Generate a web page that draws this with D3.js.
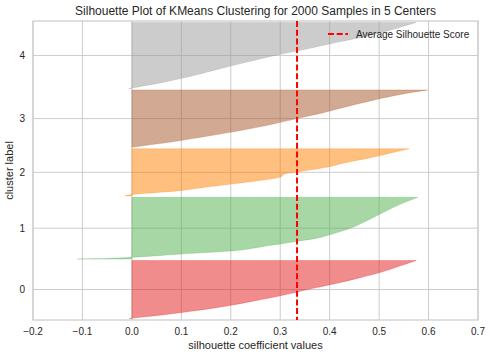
<!DOCTYPE html>
<html><head><meta charset="utf-8">
<script src="https://cdn.jsdelivr.net/npm/d3@7"></script>
<style>
body{margin:0;background:#fff}
text{font-family:"Liberation Sans",Arial,sans-serif;fill:#262626}
</style>
</head><body>
<svg id="c" width="491" height="358"></svg>
<script>
// ---- data ----
const clusterLabels = [0, 1, 2, 3, 4];
const clusterSizes = [400, 425, 325, 395, 455];
const clusterColors = ["#e41a1c", "#4daf4a", "#ff7f00", "#a65628", "#999999"];
const nSamples = 2000;
const avgScore = 0.334;
const xTicks = [-0.2, -0.1, 0.0, 0.1, 0.2, 0.3, 0.4, 0.5, 0.6, 0.7];

// sorted silhouette values read at fractional positions within each cluster
const fractions0 = [0, 0.1, 0.2, 0.3, 0.4, 0.5, 0.6, 0.7, 0.8, 0.9, 1.0];
const silhouette0 = [-0.005, 0.097, 0.18, 0.245, 0.305, 0.355, 0.41, 0.46, 0.505, 0.54, 0.575];
const fractions1 = [0, 0.01, 0.028, 0.082, 0.13, 0.175, 0.223, 0.244, 0.288, 0.33, 0.395, 0.503, 0.6, 0.72, 0.87, 1.0];
const silhouette1 = [-0.11, -0.05, 0.0, 0.1, 0.2, 0.245, 0.28, 0.3, 0.334, 0.369, 0.4, 0.443, 0.47, 0.5, 0.538, 0.578];
const fractions2 = [0, 0.03, 0.1, 0.2, 0.3, 0.4, 0.47, 0.5, 0.6, 0.7, 0.8, 0.9, 1.0];
const silhouette2 = [-0.014, 0.0, 0.085, 0.16, 0.24, 0.3, 0.31, 0.33, 0.39, 0.43, 0.478, 0.52, 0.561];
const fractions3 = [0, 0.1, 0.2, 0.3, 0.4, 0.5, 0.6, 0.7, 0.8, 0.9, 1.0];
const silhouette3 = [0.0, 0.085, 0.157, 0.225, 0.283, 0.333, 0.385, 0.43, 0.478, 0.53, 0.598];
const fractions4 = [0, 0.1, 0.2, 0.3, 0.4, 0.5, 0.6, 0.7, 0.8, 0.9, 1.0];
const silhouette4 = [-0.006, 0.067, 0.127, 0.178, 0.233, 0.289, 0.355, 0.415, 0.48, 0.53, 0.575];

const allFractions = [fractions0, fractions1, fractions2, fractions3, fractions4];
const allSilhouette = [silhouette0, silhouette1, silhouette2, silhouette3, silhouette4];

// ---- layout ----
const svg = d3.select("#c");
const L = 33, R = 478, T = 21, B = 320;
const x = d3.scaleLinear().domain([-0.2, 0.7]).range([L, R]);
const yMax = nSamples + (clusterLabels.length + 1) * 10;
const y = d3.scaleLinear().domain([0, yMax]).range([B, T]);

// compute band positions (as in yellowbrick)
let yLower = 10;
const bands = clusterLabels.map((c, i) => {
  const size = clusterSizes[i];
  const b = {label: c, lower: yLower, size: size, tick: yLower + 0.5 * size};
  yLower = yLower + size + 10;
  return b;
});

// grid
const g = svg.append("g");
g.selectAll(".vg").data(xTicks).join("line")
  .attr("x1", d => x(d)).attr("x2", d => x(d)).attr("y1", T).attr("y2", B)
  .attr("stroke", "#cccccc").attr("stroke-width", 1);
g.selectAll(".hg").data(bands).join("line")
  .attr("x1", L).attr("x2", R).attr("y1", d => y(d.tick)).attr("y2", d => y(d.tick))
  .attr("stroke", "#cccccc").attr("stroke-width", 1);

// silhouettes
const area = d3.area()
  .x0(() => x(0))
  .x1(d => x(d.v))
  .y(d => d.y)
  .curve(d3.curveMonotoneY);
bands.forEach((b, i) => {
  const pts = allFractions[i].map((f, j) => ({y: y(b.lower + f * b.size), v: allSilhouette[i][j]}));
  pts.reverse();
  svg.append("path").datum(pts).attr("d", area)
    .attr("fill", clusterColors[i]).attr("fill-opacity", 0.5)
    .attr("stroke", clusterColors[i]).attr("stroke-opacity", 0.5).attr("stroke-width", 0.5);
});

// frame
svg.append("rect").attr("x", L).attr("y", T).attr("width", R - L).attr("height", B - T)
  .attr("fill", "none").attr("stroke", "#cccccc").attr("stroke-width", 1.25);

// average line
svg.append("line").attr("x1", x(avgScore)).attr("x2", x(avgScore)).attr("y1", T).attr("y2", B)
  .attr("stroke", "#ff0000").attr("stroke-width", 2).attr("stroke-dasharray", "6,2.7");

// x tick labels
const fmt = d => (d < 0 ? "\u2212" : "") + Math.abs(d).toFixed(1);
svg.selectAll(".xt").data(xTicks).join("text")
  .attr("x", d => x(d)).attr("y", 335).attr("text-anchor", "middle")
  .attr("font-size", 10).text(fmt);
// y tick labels
svg.selectAll(".yt").data(bands).join("text")
  .attr("x", 25).attr("y", d => y(d.tick)).attr("dy", "0.35em").attr("text-anchor", "end")
  .attr("font-size", 10).text(d => d.label);

// titles
svg.append("text").attr("x", (L + R) / 2).attr("y", 15).attr("text-anchor", "middle")
  .attr("font-size", 12).text("Silhouette Plot of KMeans Clustering for 2000 Samples in 5 Centers");
svg.append("text").attr("x", (L + R) / 2).attr("y", 349).attr("text-anchor", "middle")
  .attr("font-size", 11).text("silhouette coefficient values");
svg.append("text").attr("transform", `translate(13,${(T + B) / 2}) rotate(-90)`)
  .attr("text-anchor", "middle").attr("font-size", 11).text("cluster label");

// legend
svg.append("line").attr("x1", 328).attr("x2", 348).attr("y1", 34).attr("y2", 34)
  .attr("stroke", "#ff0000").attr("stroke-width", 2).attr("stroke-dasharray", "6,2.7");
svg.append("text").attr("x", 356).attr("y", 38).attr("font-size", 10).text("Average Silhouette Score");
</script>
</body></html>
